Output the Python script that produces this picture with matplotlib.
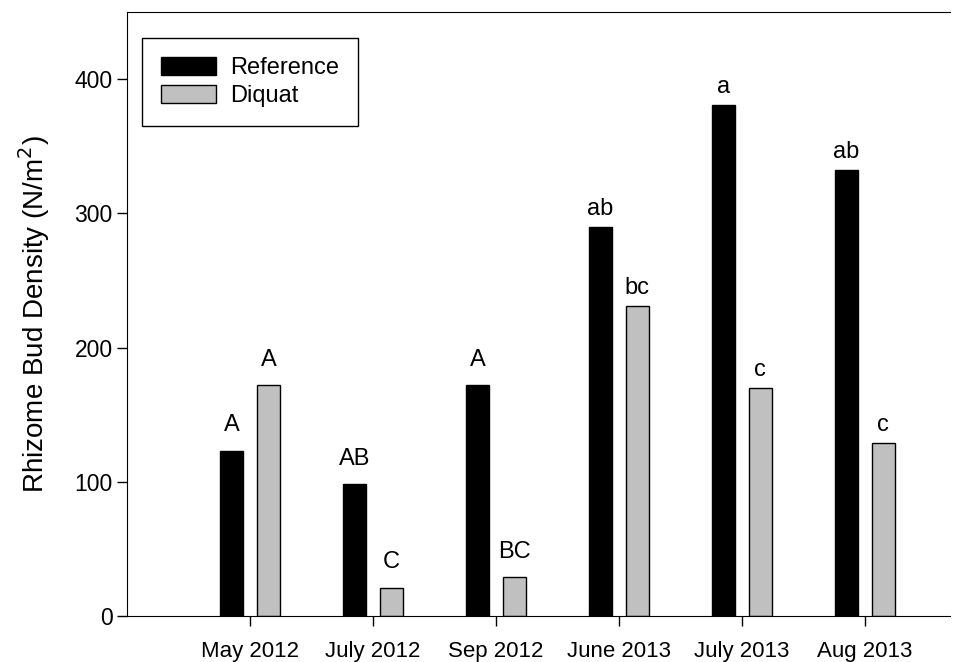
import matplotlib
matplotlib.use("Agg")
import matplotlib.pyplot as plt
import numpy as np

plt.rcParams['font.family'] = ['Liberation Sans', 'DejaVu Sans']

months = ["May 2012", "July 2012", "Sep 2012", "June 2013", "July 2013", "Aug 2013"]
reference = [123, 98, 172, 290, 381, 332]
diquat = [172, 21, 29, 231, 170, 129]
ref_letters = ["A", "AB", "A", "ab", "a", "ab"]
diq_letters = ["A", "C", "BC", "bc", "c", "c"]

fig = plt.figure(figsize=(9.78, 6.62), dpi=100)
ax = fig.add_axes([0.130, 0.0695, 0.841, 0.9125])

x = np.arange(1, len(months) + 1)
off, w = 0.15, 0.19
ax.bar(x - off, reference, w, color="black", edgecolor="black", linewidth=1, label="Reference")
ax.bar(x + off, diquat, w, color="#c0c0c0", edgecolor="black", linewidth=1, label="Diquat")

# significance letters above bars (capitals sit a bit higher in the original)
def put_letters(xs, vals, letters):
    for xi, v, s in zip(xs, vals, letters):
        gap = 14 if s.isupper() else 8.6
        ax.annotate(s, (xi, v), xytext=(0, gap), textcoords="offset points",
                    ha="center", va="baseline", fontsize=17)

put_letters(x - off, reference, ref_letters)
put_letters(x + off, diquat, diq_letters)

ax.set_xlim(0, 6.69)
ax.set_ylim(0, 450)
ax.set_xticks(x)
ax.set_xticklabels(months, fontsize=16)
ax.set_yticks([0, 100, 200, 300, 400])
ax.tick_params(axis="y", labelsize=16.5, direction="out", length=7, width=1)
ax.tick_params(axis="x", direction="out", length=7, width=1, pad=11)
ax.spines["right"].set_visible(False)
ax.set_ylabel("Rhizome Bud Density (N/m$^2$)", fontsize=20, labelpad=16)

leg = ax.legend(loc="upper left", bbox_to_anchor=(0.018, 0.957), fontsize=17,
                fancybox=False, edgecolor="black", framealpha=1,
                handlelength=2.33, handleheight=0.8, borderpad=0.8,
                labelspacing=0.25, handletextpad=0.6, borderaxespad=0)
leg.get_frame().set_linewidth(1)

fig.savefig("out.png", dpi=100)
